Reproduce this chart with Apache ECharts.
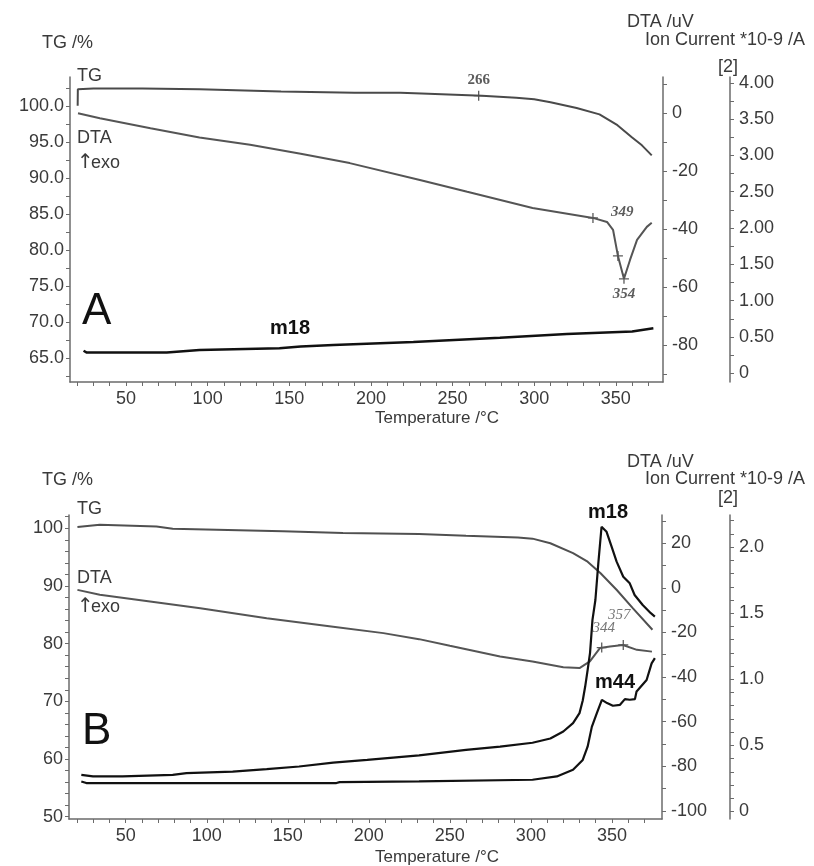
<!DOCTYPE html>
<html>
<head>
	<meta charset="utf-8">
	<title>TG / DTA / MS</title>
	<script src="https://cdn.jsdelivr.net/npm/echarts@6/dist/echarts.min.js"></script>
	<style>
		body { margin: 0; background: #fff; }
		#main { width: 814px; height: 866px; }
	</style>
</head>
<body>
<div id="main"></div>
<script type="text/javascript">
// ---- data, panel A ----
var tgA = [[20.4,100.1],[20.5,102.4],[30,102.5],[60,102.5],[95,102.4],[145,102.1],[190,101.9],[218,101.9],[231,101.8],[268,101.5],[289,101.2],[300,101.0],[310,100.6],[326,99.8],[340,98.9],[351,97.4],[360,95.7],[366,94.6],[372,93.2]];
var dtaA = [[20.6,-0.1],[34,-1.8],[65,-5.3],[95,-8.5],[126,-11.0],[157,-14.1],[187,-17.3],[230,-23.1],[259,-27.2],[299,-32.8],[336,-36.2],[344.6,-37.6],[348.3,-40.3],[351.3,-49.3],[355,-57.2],[358.7,-50.7],[363,-43.8],[369,-39.3],[372,-37.9]];
var m18A = [[24,0.31],[26,0.285],[75,0.285],[95,0.32],[144,0.346],[157,0.368],[177,0.39],[226,0.43],[279,0.49],[320,0.54],[360,0.575],[373,0.62]];
var tgMarksA = [[266,101.5]];
var tgMarkLabelsA = ['266'];
var dtaMarksA = [[336,-36.2],[351.3,-49.3],[355,-57.2]];
var dtaMarkLabelsA = ['349','','354'];

// ---- data, panel B ----
var tgB = [[20.2,100.2],[34,100.6],[69,100.3],[79,99.9],[147,99.5],[184,99.2],[231,99.0],[260,98.7],[292,98.4],[301,98.2],[312,97.4],[326,95.7],[335,94.2],[343,92.2],[353,89.3],[363,86.1],[375,82.4]];
var dtaB = [[20.2,-0.9],[34,-3.1],[65,-6.1],[96,-9.1],[137,-13.6],[178,-17.4],[209,-20.3],[231,-23.0],[250,-26.0],[281,-30.8],[301,-33.0],[320,-35.6],[330,-36.0],[336.4,-33.0],[342.6,-27.0],[348.8,-26.3],[356.8,-25.6],[365.4,-27.8],[374.7,-28.6]];
var m18B = [[22.6,0.277],[29.8,0.265],[48,0.265],[79,0.277],[87.5,0.29],[116,0.302],[137,0.32],[157,0.34],[178,0.37],[199,0.39],[231,0.425],[260,0.466],[281,0.491],[301,0.52],[312,0.552],[320,0.605],[326,0.668],[330,0.744],[332,0.84],[333.5,0.945],[335,1.07],[336.5,1.2],[338,1.45],[339.8,1.6],[341.6,1.877],[343.6,2.154],[346.7,2.116],[349.8,2.003],[352.9,1.89],[357,1.776],[361,1.726],[364,1.638],[369,1.562],[374,1.5],[376.5,1.474]];
var m44B = [[22.6,0.227],[25.7,0.215],[100,0.215],[180,0.215],[182,0.222],[231,0.227],[301,0.24],[316,0.265],[326,0.315],[332,0.39],[335,0.49],[337.6,0.64],[340.7,0.744],[343.8,0.844],[347,0.82],[350.6,0.8],[355,0.807],[358,0.85],[361,0.845],[364.2,0.85],[365.2,0.907],[371.4,0.995],[374.5,1.12],[376.5,1.16]];
var dtaMarksB = [[343.7,-26.8],[357,-25.6]];
var dtaMarkLabelsB = ['344','357'];

// ---- tick labels ----
var tempLabels = [50,100,150,200,250,300,350];
var tgLabelsA = [65,70,75,80,85,90,95,100];
var dtaLabelsA = [-80,-60,-40,-20,0];
var ionLabelsA = [0,0.5,1,1.5,2,2.5,3,3.5,4];
var tgLabelsB = [50,60,70,80,90,100];
var dtaLabelsB = [-100,-80,-60,-40,-20,0,20];
var ionLabelsB = [0,0.5,1,1.5,2];

// kleine Hilfsfunktion fuer die Nebenstriche
function steps(a, b, s) {
	var out = [];
	for (var i = 0; a + i * s <= b + 1e-9; i++) out.push(Math.round((a + i * s) * 1000) / 1000);
	return out;
}

var axisCol = '#6b6b6b';
var txtCol = '#3a3a3a';
var sans = '"Liberation Sans", Arial, "DejaVu Sans", sans-serif';

function xAx(grid, min, max) {
	return {
		type: 'value', gridIndex: grid, min: min, max: max,
		axisLine: { show: true, onZero: false, lineStyle: { color: axisCol, width: 1.5 } },
		axisTick: { show: true, length: 4, lineStyle: { color: axisCol }, customValues: steps(20, 370, 10) },
		axisLabel: { color: txtCol, fontSize: 18, fontFamily: sans, margin: 8, customValues: tempLabels },
		splitLine: { show: false }
	};
}
function yAx(grid, pos, offset, min, max, ticks, labels, fmt, margin) {
	return {
		type: 'value', gridIndex: grid, position: pos, offset: offset, min: min, max: max,
		axisLine: { show: true, onZero: false, lineStyle: { color: axisCol, width: 1.5 } },
		axisTick: { show: true, length: 4, lineStyle: { color: axisCol }, customValues: ticks },
		axisLabel: { color: txtCol, fontSize: 18, fontFamily: sans, margin: margin, customValues: labels, formatter: fmt },
		splitLine: { show: false }
	};
}
function line(data, xi, yi, color, width) {
	return { type: 'line', data: data, xAxisIndex: xi, yAxisIndex: yi, showSymbol: false, smooth: false,
		lineStyle: { color: color, width: width }, silent: true };
}
var cross = 'path://M4,0h1.2v4h4v1.2h-4v4h-1.2v-4h-4v-1.2h4z';
function marks(pts, labels, xi, yi, lblStyle) {
	return {
		type: 'scatter', xAxisIndex: xi, yAxisIndex: yi, symbol: cross, symbolSize: 10,
		itemStyle: { color: '#333' }, silent: true,
		data: pts.map(function (p, i) {
			return { value: p, label: Object.assign({ show: labels[i] !== '', formatter: labels[i] }, lblStyle[i]) };
		})
	};
}
function txt(x, y, text, size, extra) {
	var st = { text: text, fontSize: size, fontFamily: sans, fill: txtCol, align: 'left', verticalAlign: 'middle' };
	if (extra) Object.assign(st, extra);
	return { type: 'text', x: x, y: y, style: st };
}

var serifB = { fontFamily: '"Liberation Serif","DejaVu Serif",serif', fontWeight: 'bold', fontSize: 15, color: '#333' };
var serifI = { fontFamily: '"Liberation Serif","DejaVu Serif",serif', fontStyle: 'italic', fontSize: 15, color: '#555' };
var arrowFont = '"DejaVu Sans", sans-serif';

var myChart = echarts.init(document.getElementById('main'));
var option = {
	animation: false,
	grid: [
		{ left: 70, top: 77, width: 593, height: 305 },
		{ left: 69, top: 515, width: 593, height: 304 }
	],
	xAxis: [xAx(0, 15.7, 378.9), xAx(1, 15, 380.9)],
	yAxis: [
		yAx(0, 'left', 0, 61.7, 104.1, steps(62.5, 102.5, 2.5), tgLabelsA, function (v) { return v.toFixed(1); }, 6),
		yAx(0, 'right', 0, -92.8, 12.4, steps(-90, 10, 10), dtaLabelsA, null, 9),
		yAx(0, 'right', 67, -0.12, 4.08, steps(0, 4, 0.25), ionLabelsA, function (v) { return v === 0 ? '0' : v.toFixed(2); }, 9),
		yAx(1, 'left', 0, 49.6, 102.3, steps(50, 102, 2), tgLabelsB, null, 6),
		yAx(1, 'right', 0, -103.7, 32.7, steps(-100, 30, 10), dtaLabelsB, null, 9),
		yAx(1, 'right', 68, -0.057, 2.243, steps(0, 2.2, 0.1), ionLabelsB, function (v) { return v === 0 ? '0' : v.toFixed(1); }, 9)
	],
	series: [
		line(tgA, 0, 0, '#4a4a4a', 2),
		line(dtaA, 0, 1, '#555555', 2),
		line(m18A, 0, 2, '#111111', 2.5),
		marks(tgMarksA, tgMarkLabelsA, 0, 0, [Object.assign({ position: 'top', distance: 3 }, serifB)]),
		marks(dtaMarksA, dtaMarkLabelsA, 0, 1, [
			Object.assign({ position: 'right', offset: [8, -6] }, serifB, { fontStyle: 'italic' }),
			{},
			Object.assign({ position: 'bottom', distance: 3 }, serifB, { fontStyle: 'italic' })
		]),
		line(tgB, 1, 3, '#505050', 2),
		line(dtaB, 1, 4, '#555555', 2),
		line(m18B, 1, 5, '#111111', 2.2),
		line(m44B, 1, 5, '#111111', 2.2),
		marks(dtaMarksB, dtaMarkLabelsB, 1, 4, [
			Object.assign({ position: 'top', offset: [2, -2] }, serifI),
			Object.assign({ position: 'top', offset: [-4, -12] }, serifI)
		])
	],
	graphic: [
		// panel A
		txt(42, 43, 'TG /%', 18),
		txt(627, 22, 'DTA /uV', 18),
		txt(645, 40, 'Ion Current *10-9 /A', 18),
		txt(718, 67, '[2]', 18),
		txt(77, 76, 'TG', 18),
		txt(77, 138, 'DTA', 18),
		txt(77, 163, '\u2191', 20, { fontFamily: arrowFont }),
		txt(91, 163, 'exo', 18),
		txt(82, 312, 'A', 44, { fill: '#111' }),
		txt(290, 328, 'm18', 20, { fontWeight: 'bold', fill: '#111', align: 'center' }),
		txt(437, 418, 'Temperature /°C', 17, { align: 'center' }),
		// panel B
		txt(42, 480, 'TG /%', 18),
		txt(627, 462, 'DTA /uV', 18),
		txt(645, 479, 'Ion Current *10-9 /A', 18),
		txt(718, 498, '[2]', 18),
		txt(77, 509, 'TG', 18),
		txt(77, 578, 'DTA', 18),
		txt(77, 607, '\u2191', 20, { fontFamily: arrowFont }),
		txt(91, 607, 'exo', 18),
		txt(82, 732, 'B', 44, { fill: '#111' }),
		txt(608, 512, 'm18', 20, { fontWeight: 'bold', fill: '#111', align: 'center' }),
		txt(615, 682, 'm44', 20, { fontWeight: 'bold', fill: '#111', align: 'center' }),
		txt(437, 857, 'Temperature /°C', 17, { align: 'center' })
	]
};
myChart.setOption(option);
</script>
</body>
</html>
